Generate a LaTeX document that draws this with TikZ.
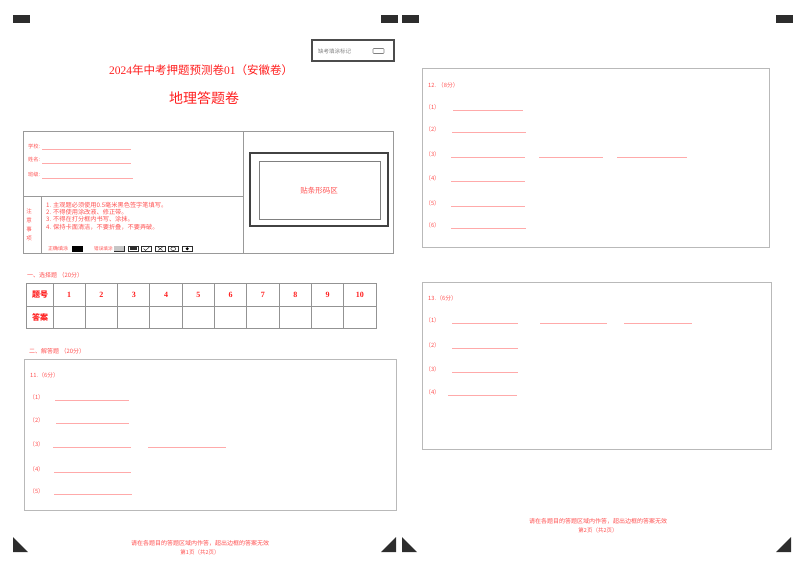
\documentclass[tikz,border=0pt]{standalone}
\usepackage{fontspec}
\setmainfont{Noto Sans CJK SC}
\newfontfamily\numfont{Liberation Serif}
\usepackage{tikz}
\usetikzlibrary{positioning}
\definecolor{titlered}{RGB}{255,30,30}
\definecolor{notered}{RGB}{255,80,80}
\definecolor{linepink}{RGB}{255,170,170}
\definecolor{markgray}{RGB}{45,45,45}
\definecolor{framegray}{RGB}{185,185,185}

\begin{document}
\begin{tikzpicture}[x=1pt,y=-1pt,
    note/.style={text=notered,font=\fontsize{5.8}{7}\selectfont,inner sep=0pt,anchor=west},
    blank/.style={draw=linepink,line width=0.9pt},
    frame/.style={draw=framegray,line width=1pt},
    grid/.style={draw=gray!85,line width=0.9pt},
    cell/.style={text=titlered,font=\fontsize{8}{9}\selectfont\bfseries,inner sep=0pt},
    tick/.style={draw=markgray,line width=0.5pt}]
    \useasboundingbox (0,0) rectangle (800,566);

    % Corner marks
    \foreach \x in {13,381,402,776}
        \fill[markgray] (\x,15) rectangle ++(17,8);
    \foreach \x in {13,402}
        \fill[markgray] (\x,537) -- (\x,552) -- ++(15,0) -- cycle;
    \foreach \x in {396,791}
        \fill[markgray] (\x,537) -- (\x,552) -- ++(-15,0) -- cycle;

    % Absent mark
    \draw[markgray!85,line width=1.2pt] (312,40) rectangle (394,61);
    \node[note,text=gray,font=\fontsize{5.5}{6}\selectfont] (absent) at (318,51) {缺考填涂标记};
    \draw[gray,rounded corners=0.8pt,line width=0.6pt] (373,48.5) rectangle (384,53.5);

    % Titles
    \node[text=titlered,font=\fontsize{11.5}{13}\selectfont] (title) at (201,70)
        {{\numfont 2024}年中考押题预测卷{\numfont 01}（安徽卷）};
    \node[text=titlered,font=\fontsize{14}{16}\selectfont] (subject) at (204,98) {地理答题卷};

    % Student info
    \draw[gray!80,line width=0.8pt] (23,131) rectangle (393,253);
    \draw[gray!80,line width=0.8pt] (243,131) -- (243,253);
    \draw[gray!80,line width=0.8pt] (23,196) -- (243,196);
    \draw[gray!80,line width=0.8pt] (41,196) -- (41,253);
    \foreach \lbl/\y/\e [count=\i] in {学校/146/131, 姓名/160/131, 班级/175/133} {
        \node[note,font=\fontsize{5.2}{6}\selectfont] (field\i) at (28,\y) {\lbl:};
        \draw[blank] (42,\y+3) -- (\e,\y+3);
    }

    % Notes
    \node[text=notered,font=\fontsize{5.5}{9}\selectfont,align=center,inner sep=0pt]
        (notehead) at (29,224.5) {注\\意\\事\\项};
    \node[note,font=\fontsize{6.2}{7.35}\selectfont,align=left] (notes) at (46,216)
        {1. 主观题必须使用0.5毫米黑色签字笔填写。\\
         2. 不得使用涂改液、修正带。\\
         3. 不得在打分框内书写、涂抹。\\
         4. 保持卡面清洁，不要折叠，不要弄破。};
    \node[note,font=\fontsize{5}{6}\selectfont] (rightfill) at (48,249) {正确填涂};
    \fill[black] (72,246) rectangle (83,252);
    \node[note,font=\fontsize{4.6}{6}\selectfont] (wrongfill) at (94,249) {错误填涂};
    \foreach \x in {114,128,141,155,168,182}
        \draw[tick] (\x,246) rectangle ++(10.5,5.5);
    \fill[gray!45] (114.3,246.3) rectangle (124.2,251.2);
    \fill[markgray] (129.5,247.3) rectangle (137,250.3);
    \draw[tick] (143.5,248.5) -- (145.5,250.5) -- (149.5,246.8);
    \draw[tick] (158,247) -- (162.5,250.5) (158,250.5) -- (162.5,247);
    \draw[tick] (173.25,248.75) ellipse (2.5pt and 1.8pt);
    \fill[black] (187.25,248.75) circle (1.6pt);

    % Barcode
    \draw[markgray!90,line width=1.5pt] (250,153) rectangle (388,226);
    \draw[gray,line width=0.8pt] (259,161) rectangle (380,219);
    \node[text=notered,font=\fontsize{7.5}{9}\selectfont] (barcode) at (319,191) {贴条形码区};

    % Choice table
    \node[note,font=\fontsize{6}{7}\selectfont] (part1) at (27,275) {一、选择题 （20分）};
    \draw[grid] (26,283) rectangle (376,328);
    \draw[grid] (26,306) -- (376,306);
    \foreach \k in {0,...,9}
        \draw[grid] ({53+32.3*\k},283) -- ({53+32.3*\k},328);
    \node[cell] (numhead) at (40,295) {题号};
    \node[cell] (anshead) at (40,317) {答案};
    \foreach \k in {1,...,10}
        \node[cell,font=\numfont\fontsize{8}{9}\selectfont\bfseries] (num\k) at ({53+32.3*(\k-0.5)},295) {\k};

    % Question 11
    \node[note,font=\fontsize{6}{7}\selectfont] (part2) at (29,351) {二、解答题 （20分）};
    \draw[frame] (24,359) rectangle (396,510);
    \node[note] (q11) at (30,375) {11.（6分）};
    \foreach \n/\y/\a/\b in {1/397/55/129, 2/420/56/129, 3/444/53/131, 4/469/54/131, 5/491/54/132} {
        \node[note] (q11-\n) at (29,\y) {（\n）};
        \draw[blank] (\a,\y+3) -- (\b,\y+3);
    }
    \draw[blank] (148,447) -- (226,447);

    % Footer page 1
    \node[text=notered,font=\fontsize{6}{7}\selectfont,inner sep=0pt] (foot1) at (200,543)
        {请在各题目的答题区域内作答，超出边框的答案无效};
    \node[text=notered,font=\fontsize{5.5}{6}\selectfont,inner sep=0pt] (page1) at (200,552) {第1页（共2页）};

    % Question 12
    \draw[frame] (422,68) rectangle (769,247);
    \node[note] (q12) at (428,85) {12. （8分）};
    \foreach \n/\y/\a/\b in {1/107/453/523, 2/129/452/526, 3/154/451/525, 4/178/451/525, 5/203/451/525, 6/225/451/526} {
        \node[note] (q12-\n) at (425,\y) {（\n）};
        \draw[blank] (\a,\y+3.5) -- (\b,\y+3.5);
    }
    \draw[blank] (539,157.5) -- (603,157.5);
    \draw[blank] (617,157.5) -- (687,157.5);

    % Question 13
    \draw[frame] (422,282) rectangle (771,449);
    \node[note] (q13) at (428,298) {13.（6分）};
    \foreach \n/\y/\a/\b in {1/320/452/518, 2/345/452/518, 3/369/452/518, 4/392/448/517} {
        \node[note] (q13-\n) at (425,\y) {（\n）};
        \draw[blank] (\a,\y+3) -- (\b,\y+3);
    }
    \draw[blank] (540,323) -- (607,323);
    \draw[blank] (624,323) -- (692,323);

    % Footer page 2
    \node[text=notered,font=\fontsize{6}{7}\selectfont,inner sep=0pt] (foot2) at (598,521)
        {请在各题目的答题区域内作答，超出边框的答案无效};
    \node[text=notered,font=\fontsize{5.5}{6}\selectfont,inner sep=0pt] (page2) at (598,530) {第2页（共2页）};
\end{tikzpicture}
\end{document}
